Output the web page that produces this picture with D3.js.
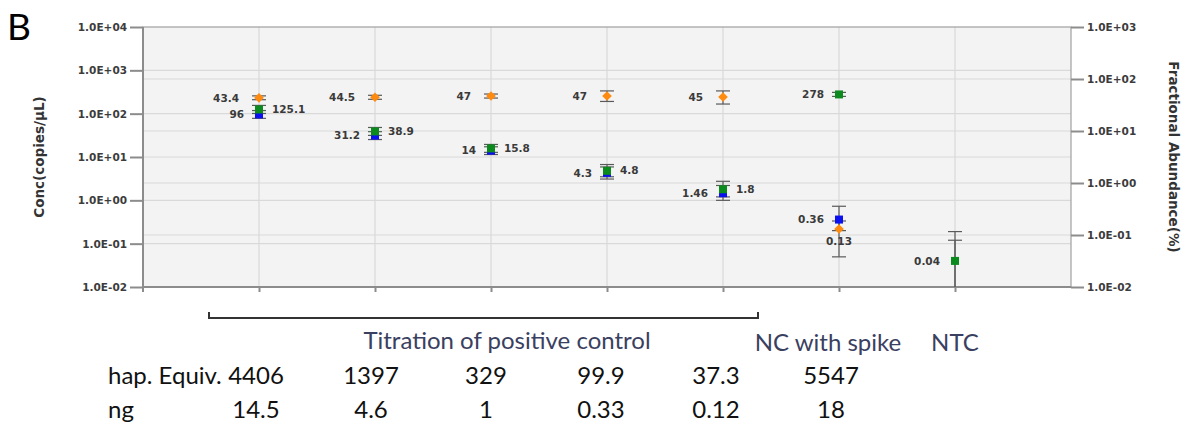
<!DOCTYPE html>
<html>
<head>
<meta charset="utf-8">
<script src="https://cdn.jsdelivr.net/npm/d3@7"></script>
<style>
  html, body { margin: 0; padding: 0; background: #fff; }
  svg { display: block; }
</style>
</head>
<body>
<svg id="chart" width="1190" height="432"></svg>
<script>
// ---- data -------------------------------------------------------------
const categories = ["P1", "P2", "P3", "P4", "P5", "NC", "NTC"];

// concentration (copies/µL), left axis
const blueConc  = [96, 31.2, 14, 4.3, 1.46, 0.36, null];
const blueLow   = [78, 25.3, 11.4, 3.1, 1.0, 0.2, 0.001];
const blueHigh  = [118, 38.4, 17.2, 5.9, 2.2, 0.73, 0.12];

const greenConc = [125.1, 38.9, 15.8, 4.8, 1.8, 278, 0.04];
const greenLow  = [101, 31.5, 12.8, 3.5, 1.2, 250, 0.001];
const greenHigh = [155, 48, 19.5, 6.7, 2.75, 310, 0.19];

// fractional abundance (%), right axis
const orangeFA   = [43.4, 44.5, 47, 47, 45, 0.13, null];
const orangeLow  = [40, 40.7, 43, 37, 33, 0.038, null];
const orangeHigh = [47.4, 48.6, 51.4, 59, 59, 0.186, null];

// which side each value label sits on
const greenLabelSide  = ["right", "right", "right", "right", "right", "left", "left"];
const orangeLabelSide = ["left", "left", "left", "left", "left", "below", null];

const leftTicks       = [1e-2, 1e-1, 1e0, 1e1, 1e2, 1e3, 1e4];
const leftTickLabels  = ["1.0E-02", "1.0E-01", "1.0E+00", "1.0E+01", "1.0E+02", "1.0E+03", "1.0E+04"];
const rightTicks      = [1e-2, 1e-1, 1e0, 1e1, 1e2, 1e3];
const rightTickLabels = ["1.0E-02", "1.0E-01", "1.0E+00", "1.0E+01", "1.0E+02", "1.0E+03"];

const hapEquiv = ["4406", "1397", "329", "99.9", "37.3", "5547"];
const ngValues = ["14.5", "4.6", "1", "0.33", "0.12", "18"];

// ---- layout -----------------------------------------------------------
const plot = { left: 143, right: 1071, top: 27, bottom: 287 };
const svg = d3.select("#chart");

const x = d3.scalePoint().domain(categories).range([plot.left, plot.right]).padding(1);
const yL = d3.scaleLog().domain([1e-2, 1e4]).range([plot.bottom, plot.top]);
const yR = d3.scaleLog().domain([1e-2, 1e3]).range([plot.bottom, plot.top]);

const COLORS = { blue: "#0a10f0", green: "#0b8a1e", orange: "#ff8a10" };
const TICK_FONT = "'DejaVu Sans', Verdana, sans-serif";
const TEXT_FONT = "Lato, 'Open Sans', sans-serif";

// plot background
svg.append("rect")
  .attr("x", plot.left).attr("y", plot.top)
  .attr("width", plot.right - plot.left).attr("height", plot.bottom - plot.top)
  .attr("fill", "#f3f3f3");

// grid lines (both axes' decades + category verticals)
const grid = svg.append("g").attr("stroke", "#d9d9d9").attr("stroke-width", 1.2);
grid.selectAll("line.gl").data(leftTicks.slice(1, -1)).join("line")
  .attr("x1", plot.left).attr("x2", plot.right)
  .attr("y1", d => yL(d)).attr("y2", d => yL(d));
grid.selectAll("line.gr").data(rightTicks.slice(1, -1)).join("line")
  .attr("class", "gr")
  .attr("x1", plot.left).attr("x2", plot.right)
  .attr("y1", d => yR(d)).attr("y2", d => yR(d));
grid.selectAll("line.gx").data(categories).join("line")
  .attr("class", "gx")
  .attr("x1", d => x(d)).attr("x2", d => x(d))
  .attr("y1", plot.top).attr("y2", plot.bottom);

// frame
svg.append("rect")
  .attr("x", plot.left).attr("y", plot.top)
  .attr("width", plot.right - plot.left).attr("height", plot.bottom - plot.top)
  .attr("fill", "none").attr("stroke", "#a0a0a0").attr("stroke-width", 1.2);
svg.append("line")
  .attr("x1", plot.left).attr("x2", plot.left)
  .attr("y1", plot.top).attr("y2", plot.bottom + 5)
  .attr("stroke", "#8c8c8c").attr("stroke-width", 2);
svg.append("line")
  .attr("x1", plot.left).attr("x2", plot.right)
  .attr("y1", plot.bottom).attr("y2", plot.bottom)
  .attr("stroke", "#8c8c8c").attr("stroke-width", 2);

// axes
function styleAxis(g) {
  g.select(".domain").remove();
  g.selectAll(".tick line").attr("stroke", "#8c8c8c").attr("stroke-width", 2);
  g.selectAll(".tick text")
    .attr("fill", "#3c3c3c")
    .style("font-family", TICK_FONT)
    .style("font-size", "10.5px")
    .style("font-weight", "bold");
}
svg.append("g")
  .attr("transform", `translate(${plot.left},0)`)
  .call(d3.axisLeft(yL).tickValues(leftTicks)
    .tickFormat((d, i) => leftTickLabels[i]).tickSize(13).tickPadding(3))
  .call(styleAxis);
svg.append("g")
  .attr("transform", `translate(${plot.right},0)`)
  .call(d3.axisRight(yR).tickValues(rightTicks)
    .tickFormat((d, i) => rightTickLabels[i]).tickSize(13).tickPadding(3))
  .call(styleAxis);
svg.append("g")
  .attr("transform", `translate(0,${plot.bottom})`)
  .call(d3.axisBottom(x).tickSize(5).tickFormat(""))
  .call(styleAxis);

// axis titles
svg.append("text")
  .attr("transform", `translate(44,${(plot.top + plot.bottom) / 2}) rotate(-90)`)
  .attr("text-anchor", "middle")
  .attr("fill", "#333")
  .style("font-family", TICK_FONT).style("font-size", "13.5px").style("font-weight", "bold")
  .text("Conc(copies/µL)");
svg.append("text")
  .attr("transform", `translate(1169,${(plot.top + plot.bottom) / 2}) rotate(90)`)
  .attr("text-anchor", "middle")
  .attr("fill", "#333")
  .style("font-family", TICK_FONT).style("font-size", "13.5px").style("font-weight", "bold")
  .text("Fractional Abundance(%)");

// error bars
function errorBars(values, low, high, scale) {
  const yMin = plot.bottom, yMax = plot.top;
  const clamp = v => Math.max(yMax, Math.min(yMin, v));
  const rows = categories.map((c, i) => ({ c, v: values[i], lo: low[i], hi: high[i] }))
    .filter(d => d.lo != null && d.hi != null);
  const g = svg.append("g").attr("stroke", "#5a5a5a").attr("stroke-width", 1.2).attr("fill", "none");
  rows.forEach(d => {
    const cx = x(d.c);
    const yHi = clamp(scale(d.hi)), yLo = clamp(scale(d.lo));
    g.append("line").attr("x1", cx).attr("x2", cx).attr("y1", yHi).attr("y2", yLo);
    g.append("line").attr("x1", cx - 7).attr("x2", cx + 7).attr("y1", yHi).attr("y2", yHi);
    if (scale(d.lo) < yMin) {
      g.append("line").attr("x1", cx - 7).attr("x2", cx + 7).attr("y1", yLo).attr("y2", yLo);
    }
  });
}
errorBars(orangeFA, orangeLow, orangeHigh, yR);
errorBars(blueConc, blueLow, blueHigh, yL);
errorBars(greenConc, greenLow, greenHigh, yL);

// markers
const orangeRows = categories.map((c, i) => ({ c, v: orangeFA[i], side: orangeLabelSide[i] })).filter(d => d.v != null);
const blueRows = categories.map((c, i) => ({ c, v: blueConc[i] })).filter(d => d.v != null);
const greenRows = categories.map((c, i) => ({ c, v: greenConc[i], side: greenLabelSide[i] })).filter(d => d.v != null);

svg.append("g").selectAll("path").data(orangeRows).join("path")
  .attr("d", d => {
    const cx = x(d.c), cy = yR(d.v), r = 4.8;
    return `M${cx},${cy - r}L${cx + r},${cy}L${cx},${cy + r}L${cx - r},${cy}Z`;
  })
  .attr("fill", COLORS.orange);

svg.append("g").selectAll("rect").data(blueRows).join("rect")
  .attr("x", d => x(d.c) - 4).attr("y", d => yL(d.v) - 4)
  .attr("width", 8).attr("height", 8)
  .attr("fill", COLORS.blue);

svg.append("g").selectAll("rect").data(greenRows).join("rect")
  .attr("x", d => x(d.c) - 4).attr("y", d => yL(d.v) - 4)
  .attr("width", 8).attr("height", 8)
  .attr("fill", COLORS.green);

// value labels
const labelG = svg.append("g")
  .attr("fill", "#3a3a3a")
  .style("font-family", TICK_FONT).style("font-size", "10.5px").style("font-weight", "bold");

labelG.selectAll("text.o").data(orangeRows).join("text")
  .attr("class", "o")
  .attr("x", d => d.side === "below" ? x(d.c) : x(d.c) - 20)
  .attr("y", d => d.side === "below" ? yR(d.v) + 12 : yR(d.v))
  .attr("dy", "0.35em")
  .attr("text-anchor", d => d.side === "below" ? "middle" : "end")
  .text(d => d.v);

labelG.selectAll("text.b").data(blueRows).join("text")
  .attr("class", "b")
  .attr("x", d => x(d.c) - 15)
  .attr("y", d => yL(d.v))
  .attr("dy", "0.35em")
  .attr("text-anchor", "end")
  .text(d => d.v);

labelG.selectAll("text.g").data(greenRows).join("text")
  .attr("class", "g")
  .attr("x", d => d.side === "right" ? x(d.c) + 13 : x(d.c) - 15)
  .attr("y", d => yL(d.v))
  .attr("dy", "0.35em")
  .attr("text-anchor", d => d.side === "right" ? "start" : "end")
  .text(d => d.v);

// panel letter
svg.append("text")
  .attr("x", 7).attr("y", 40)
  .attr("fill", "#000")
  .style("font-family", TEXT_FONT).style("font-size", "37px")
  .text("B");

// group bracket under the titration samples
const bx0 = x("P1") - 50, bx1 = x("P5") + 35, by = 318;
svg.append("path")
  .attr("d", `M${bx0},${by - 6}V${by}H${bx1}V${by - 6}`)
  .attr("fill", "none").attr("stroke", "#333").attr("stroke-width", 2);

const groupText = svg.append("g")
  .attr("fill", "#3a4060")
  .style("font-family", TEXT_FONT).style("font-size", "24px")
  .attr("text-anchor", "middle");
groupText.append("text").attr("x", x("P3") + 16).attr("y", 349).text("Titration of positive control");
groupText.append("text").attr("x", x("NC") - 11).attr("y", 351).text("NC with spike");
groupText.append("text").attr("x", x("NTC")).attr("y", 351).text("NTC");

// table of template amounts
const tableX = d3.scalePoint().domain(d3.range(hapEquiv.length)).range([256, 831]);
const table = svg.append("g")
  .attr("fill", "#111")
  .style("font-family", TEXT_FONT).style("font-size", "24px");
table.append("text").attr("x", 108).attr("y", 384).text("hap. Equiv.");
table.append("text").attr("x", 108).attr("y", 418).text("ng");
table.selectAll("text.h").data(hapEquiv).join("text")
  .attr("class", "h")
  .attr("x", (d, i) => tableX(i)).attr("y", 384)
  .attr("text-anchor", "middle").text(d => d);
table.selectAll("text.n").data(ngValues).join("text")
  .attr("class", "n")
  .attr("x", (d, i) => tableX(i)).attr("y", 418)
  .attr("text-anchor", "middle").text(d => d);
</script>
</body>
</html>
